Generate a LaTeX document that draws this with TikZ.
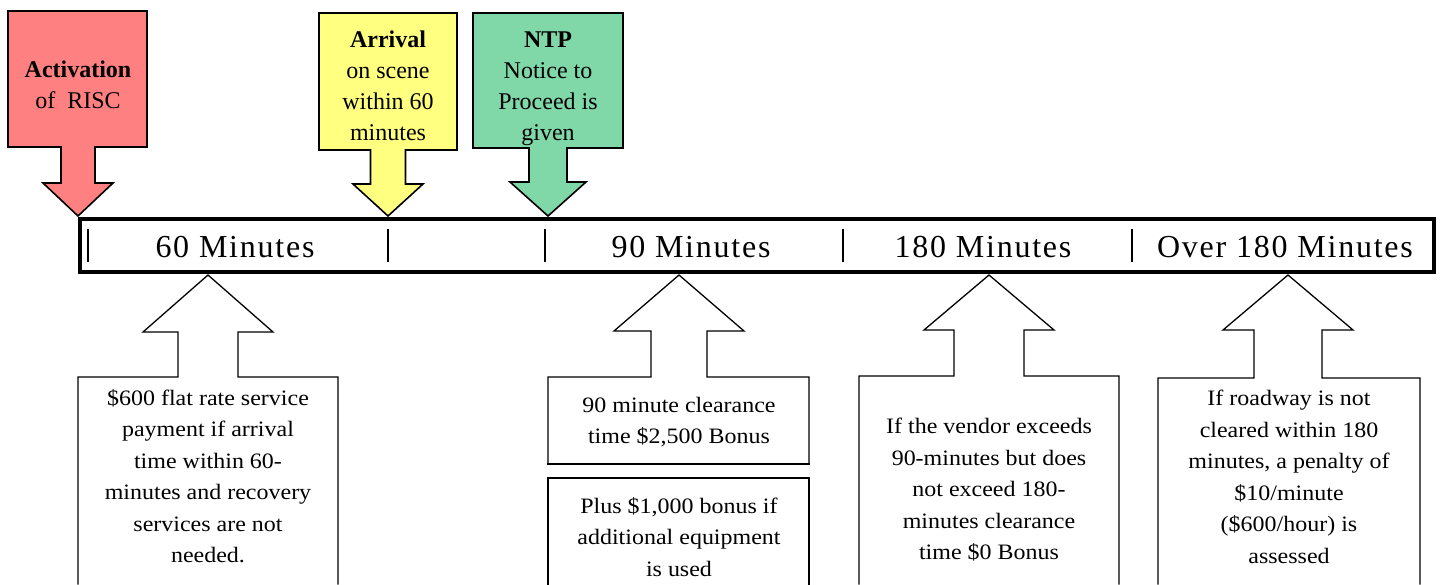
\documentclass[tikz,border=0pt]{standalone}
\usepackage{fontspec}
\setmainfont{Liberation Serif}
\newfontfamily\notefont[FakeStretch=1.09]{Liberation Serif}
\newfontfamily\barfont[LetterSpace=5.5]{Liberation Serif}
\definecolor{riscred}{RGB}{255, 128, 128}
\definecolor{riscyellow}{RGB}{255, 255, 128}
\definecolor{riscgreen}{RGB}{128, 216, 168}
\tikzstyle{downbox} = [draw=black, line width=1.6pt, line join=miter]
\tikzstyle{upbox} = [draw=black, line width=1.3pt, line join=miter, line cap=rect]
\tikzstyle{topnote} = [align=center, inner sep=0pt, font=\fontsize{24}{31}\selectfont]
\tikzstyle{botnote} = [align=center, inner sep=0pt, font=\notefont\fontsize{22}{31.5}\selectfont]
\tikzstyle{barlabel} = [inner sep=0pt, font=\barfont\fontsize{32}{36}\selectfont]

% box with an arrow pointing down onto the timeline
% #1 colour, #2/#3 box left/right, #4/#5 box top/bottom,
% #6 half shaft, #7 head line, #8 half head, #9 centre
\newcommand{\downcallout}[9]{%
  \draw[downbox, fill=#1] (#2,#4) -- (#3,#4) -- (#3,#5)
    -- ({#9+#6},#5) -- ({#9+#6},#7) -- ({#9+#8},#7) -- (#9,216)
    -- ({#9-#8},#7) -- ({#9-#6},#7) -- ({#9-#6},#5) -- (#2,#5) -- cycle;}

% box below the timeline with an arrow pointing up, open at the bottom
% #1 bottom, #2/#3 box left/right, #4 box top, #5 half shaft,
% #6 head line, #7 centre
\newcommand{\upcallout}[7][584]{%
  \draw[upbox, fill=white] (#2,#1) -- (#2,#4) -- ({#7-#5},#4)
    -- ({#7-#5},#6) -- ({#7-65},#6) -- (#7,275) -- ({#7+65},#6)
    -- ({#7+#5},#6) -- ({#7+#5},#4) -- (#3,#4) -- (#3,#1);}

\begin{document}
\begin{tikzpicture}[x=1pt, y=-1pt]
            \useasboundingbox (0,0) rectangle (1442,584);

            % Events above the timeline
            \downcallout{riscred}{8}{147}{11}{147}{17}{183}{35}{78}
            \downcallout{riscyellow}{319}{457}{13}{150}{17.5}{184}{35}{388}
            \downcallout{riscgreen}{473}{623}{13}{148}{19}{182}{38}{548}

            \node[topnote] (act) at (78,85) {\textbf{Activation}\\of\ \ RISC};
            \node[topnote] (arr) at (388,86) {\textbf{Arrival}\\on scene\\within 60\\minutes};
            \node[topnote] (ntp) at (548,89) {\textbf{NTP}\\Notice to\\Proceed is\\given};

            % Timeline
            \node[draw, line width=4pt, minimum width=1354pt, minimum height=53pt,
              inner sep=0pt] (bar) at (757,245.5) {};
            \foreach \x in {88,388,545,843,1132}
              \draw[line width=1.6pt] (\x,229) -- (\x,262);

            \node[barlabel] (lbl60) at (235,247) {60 Minutes};
            \node[barlabel] (lbl90) at (691,247) {90 Minutes};
            \node[barlabel] (lbl180) at (983,247) {180 Minutes};
            \node[barlabel] (lblover) at (1285,247) {Over 180 Minutes};

            % Payments below the timeline
            \upcallout{78}{338}{377}{30}{332}{208}
            \upcallout[464]{548}{809}{377}{28}{331}{679}
            \draw[upbox] (548,464) -- (809,464);
            \draw[upbox] (548,584) |- (809,478) -- (809,584);
            \upcallout{859}{1119}{376}{35}{330}{989}
            \upcallout{1158}{1420}{378}{34}{330}{1288}

            \node[botnote] (pay60) at (208,476) {\$600 flat rate service\\payment if arrival\\time within 60-\\minutes and recovery\\services are not\\needed.};
            \node[botnote] (bonus90) at (679,422) {90 minute clearance\\time \$2,500 Bonus};
            \node[botnote] (equip90) at (679,537) {Plus \$1,000 bonus if\\additional equipment\\is used};
            \node[botnote] (bonus180) at (989,490) {If the vendor exceeds\\90-minutes but does\\not exceed 180-\\minutes clearance\\time \$0 Bonus};
            \node[botnote] (penalty) at (1289,477) {If roadway is not\\cleared within 180\\minutes, a penalty of\\\$10/minute\\(\$600/hour) is\\assessed};
          \end{tikzpicture}
\end{document}
